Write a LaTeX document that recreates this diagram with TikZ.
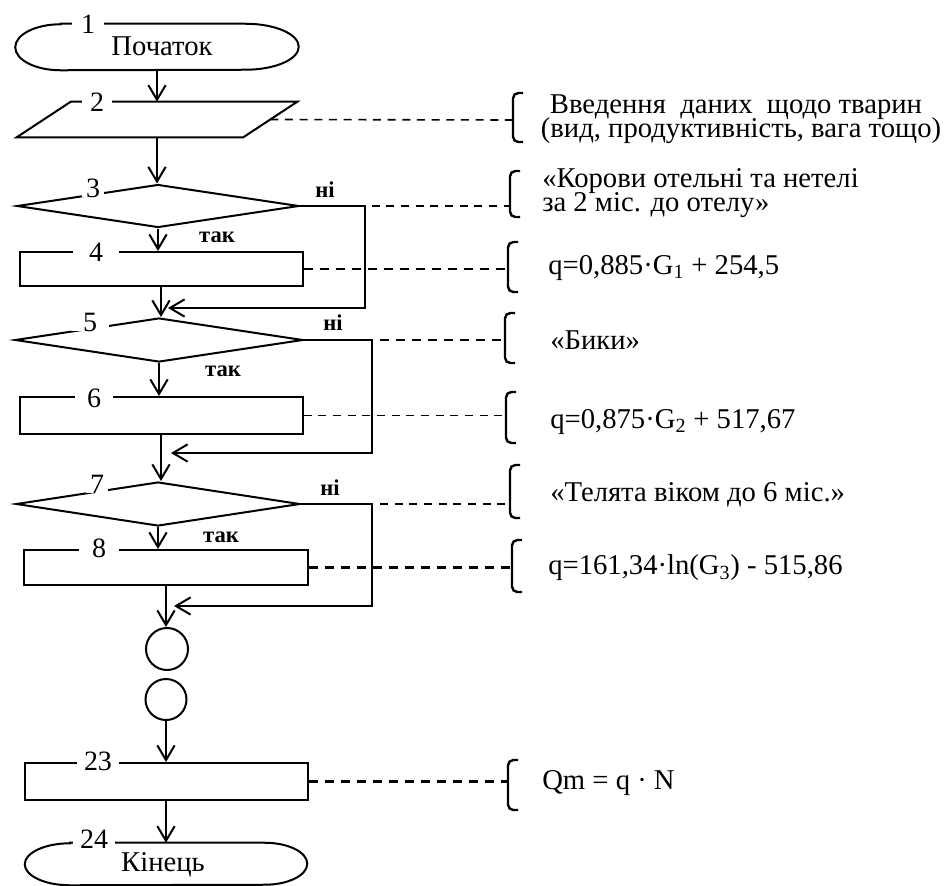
\documentclass[tikz,border=0pt]{standalone}
\usepackage{fontspec}
\setmainfont{Liberation Serif}
\usetikzlibrary{arrows.meta,shapes.geometric}
\begin{document}
\begin{tikzpicture}[x=0.75pt,y=-0.75pt,
  txt/.style={font=\fontsize{21.5}{22}\selectfont, inner sep=0pt},
  num/.style={font=\fontsize{21}{21}\selectfont, fill=white, inner xsep=5pt, inner ysep=0pt},
  yn/.style={font=\bfseries\fontsize{17}{17}\selectfont, inner sep=0pt},
  outl/.style={line width=1.5pt},
  ghost/.style={draw=none, inner sep=0pt},
  box/.style={draw, line width=1.5pt, minimum width=212.25pt, inner sep=0pt},
  dec/.style={draw, shape=diamond, line width=1.5pt, inner sep=0pt},
  conn/.style={draw, shape=circle, line width=1.5pt, inner sep=0pt},
  arr/.style={line width=1.5pt, -{Straight Barb[length=11pt,width=13pt]}},
  looparr/.style={line width=2.2pt, -{Straight Barb[length=11pt,width=13pt,line width=1.5pt]}},
  dthin/.style={line width=1.2pt, dash pattern=on 6pt off 5pt},
  dthick/.style={line width=1.9pt, dash pattern=on 7pt off 5pt},
  brk/.style={line width=1.8pt, rounded corners=4pt},
]
\useasboundingbox (0,0) rectangle (947,886);

% ---------- flowchart shapes ----------
\node[ghost, minimum width=212.25pt, minimum height=34.5pt] (t1) at (157,47) {};
\draw[outl] ([xshift=34pt]t1.north west) -- ([xshift=-40pt]t1.north east)
  arc[start angle=90,end angle=-90,x radius=40pt,y radius=17.25pt]
  -- ([xshift=34pt]t1.south west)
  arc[start angle=270,end angle=90,x radius=34pt,y radius=17.25pt] -- cycle;
\node[txt] (t1txt) at (162,46) {Початок};

\node[ghost, minimum width=210pt, minimum height=26.25pt] (p2) at (157,119.5) {};
\draw[outl] ([xshift=40.5pt]p2.north west) -- (p2.north east)
  -- ([xshift=-40.5pt]p2.south east) -- (p2.south west) -- cycle;

\node[dec, minimum width=211.5pt, minimum height=32.25pt] (d3) at (158,206) {};
\node[box, minimum height=25.5pt] (r4) at (161,269) {};
\node[dec, minimum width=216pt, minimum height=33pt] (d5) at (159,340) {};
\node[box, minimum height=27.75pt] (r6) at (161,415.5) {};
\node[dec, minimum width=213pt, minimum height=33pt] (d7) at (158,504) {};
\node[box, minimum width=213pt, minimum height=26.25pt] (r8) at (166,567.5) {};
\node[conn, minimum size=31.5pt] (c1) at (167,649) {};
\node[conn, minimum size=30.75pt] (c2) at (166,699.5) {};
\node[box, minimum height=27.75pt] (r23) at (166,781.5) {};

\node[ghost, minimum width=211.5pt, minimum height=31.5pt] (t24) at (166,864) {};
\draw[outl] ([xshift=34pt]t24.north west) -- ([xshift=-32pt]t24.north east)
  arc[start angle=90,end angle=-90,x radius=32pt,y radius=15.75pt]
  -- ([xshift=34pt]t24.south west)
  arc[start angle=270,end angle=90,x radius=34pt,y radius=15.75pt] -- cycle;
\node[txt] (t24txt) at (163,865) {Кінець};

% ---------- block numbers ----------
\node[num, inner xsep=7pt] (n1) at (88,24) {1};
\node[num, inner xsep=6pt] (n2) at (97,102) {2};
\node[num, inner xsep=3pt] (n3) at (93,188) {3};
\node[num, inner xsep=12pt] (n4) at (96,252) {4};
\node[num, inner xsep=9pt] (n5) at (90,322) {5};
\node[num, inner xsep=9pt] (n6) at (94,398) {6};
\node[num, inner xsep=3pt] (n7) at (97,484) {7};
\node[num, inner xsep=10pt] (n8) at (99,548) {8};
\node[num, inner xsep=5pt] (n23) at (98,761) {23};
\node[num, inner xsep=5pt] (n24) at (94,839) {24};

% ---------- main flow ----------
\draw[arr] (t1.south) -- (t1.south |- p2.north);
\draw[arr] (p2.south) -- (p2.south |- d3.north);
\draw[arr] (d3.south) -- (d3.south |- r4.north);
\draw[arr] (r4.south) -- (r4.south |- d5.north);
\draw[arr] (d5.south) -- (d5.south |- r6.north);
\draw[arr] (r6.south) -- (r6.south |- d7.north);
\draw[arr] (d7.south) -- (d7.south |- r8.north);
\draw[arr] (r8.south) -- (r8.south |- c1.north);
\draw[arr] (c2.south) -- (c2.south |- r23.north);
\draw[arr] (r23.south) -- (r23.south |- t24.north);

% ---------- "no" branches ----------
\coordinate (k3) at (365,206);
\coordinate (j3) at (168,308);
\coordinate (k5) at (372,340);
\coordinate (j5) at (171,453);
\coordinate (k7) at (372,504);
\coordinate (j7) at (174,606);
\draw[looparr] (d3.east) -- (k3) |- (j3);
\draw[looparr] (d5.east) -- (k5) |- (j5);
\draw[looparr] (d7.east) -- (k7) |- (j7);

\node[yn] (no3) at (325,190) {ні};
\node[yn] (no5) at (333,323) {ні};
\node[yn] (no7) at (330,488) {ні};
\node[yn] (yes3) at (217,237) {так};
\node[yn] (yes5) at (223,371) {так};
\node[yn] (yes7) at (221,537) {так};

% ---------- comment brackets ----------
\coordinate (bA) at (513,120);
\coordinate (bB) at (510,206);
\coordinate (bC) at (508,269);
\coordinate (bD) at (505,340);
\coordinate (bE) at (506,415.5);
\coordinate (bF) at (510,504);
\coordinate (bG) at (512,567.5);
\coordinate (bH) at (508,781.5);

\draw[brk] (523,93) -- (513,93) -- (513,142) -- (523,142);
\draw[brk] (520,171) -- (510,171) -- (510,217) -- (520,217);
\draw[brk] (518,242) -- (508,242) -- (508,292) -- (518,292);
\draw[brk] (515,313) -- (505,313) -- (505,363) -- (515,363);
\draw[brk] (516,392) -- (506,392) -- (506,443) -- (516,443);
\draw[brk] (520,465) -- (510,465) -- (510,518) -- (520,518);
\draw[brk] (522,540) -- (512,540) -- (512,592) -- (522,592);
\draw[brk] (518,760) -- (508,760) -- (508,810) -- (518,810);

\draw[dthin] ([xshift=-20.25pt]p2.east) -- (bA);
\draw[dthin] ([xshift=5pt]k3) -- (bB);
\draw[dthick] (r4.east) -- (bC);
\draw[dthick] ([xshift=6pt]k5) -- (bD);
\draw[dthin] (r6.east) -- (bE);
\draw[dthin] ([xshift=6pt]k7) -- (bF);
\draw[dthick] (r8.east) -- (bG);
\draw[dthick] (r23.east) -- (bH);

% ---------- comment texts ----------
\node[txt] (cA1) at (736,107) {Введення\ \ даних\ \ щодо тварин};
\node[txt] (cA2) at (741,131) {(вид, продуктивність, вага тощо)};
\node[txt, anchor=west] (cB1) at (542,181) {«Корови отельні та нетелі};
\node[txt, anchor=west] (cB2) at (542,205) {за 2 міс. до отелу»};
\node[txt, anchor=west] (cC) at (548,268) {q=0,885·G\textsubscript{1} + 254,5};
\node[txt, anchor=west] (cD) at (550,340) {«Бики»};
\node[txt, anchor=west] (cE) at (550,422) {q=0,875·G\textsubscript{2} + 517,67};
\node[txt, anchor=west] (cF) at (550,495) {«Телята віком до 6 міс.»};
\node[txt, anchor=west] (cG) at (548,568) {q=161,34·ln(G\textsubscript{3}) - 515,86};
\node[txt, anchor=west] (cH) at (542,783) {Qm = q · N};
\end{tikzpicture}
\end{document}
